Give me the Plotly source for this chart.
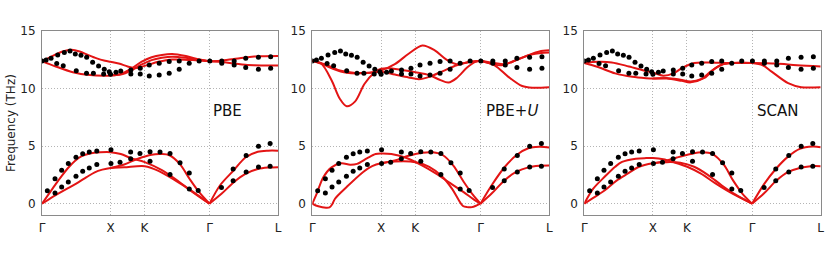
import plotly.graph_objects as go

# ---- axes / labels ----
TICK_POS = [0.0, 1.0, 1.496, 2.445, 3.445]
TICK_TEXT = ["Γ", "X", "K", "Γ", "L"]
Y_TICKS = [0, 5, 10, 15]
PANEL_LABELS = ["PBE", "PBE+<i>U</i>", "SCAN"]
LABEL_X = [2.715, 2.90, 2.816]
LABEL_Y = [8.0, 8.0, 8.0]
Y_TITLE = "Frequency (THz)"

# ---- experimental points (same in every panel) ----
EXP_X = [0.078, 0.19, 0.287, 0.384, 0.496, 0.594, 0.69, 0.80, 1.007,
         0.19, 0.287, 0.384, 0.496, 0.594, 0.69, 0.80, 1.007, 1.139,
         1.294, 1.294, 1.43, 1.577, 1.577, 1.723, 1.869, 1.869, 2.015, 2.15, 2.15, 2.28,
         2.62, 2.79, 2.79, 2.98, 2.98, 3.16, 3.16, 3.33, 3.33,
         0.0, 0.06, 0.132, 0.229, 0.326, 0.409, 0.486, 0.569, 0.652, 0.739, 0.826, 0.909, 0.982,
         0.215, 0.31, 0.50, 0.65, 0.75, 0.90, 1.0, 1.08, 1.15,
         1.297, 1.297, 1.434, 1.434, 1.566, 1.566, 1.711, 1.711, 1.857, 1.857, 2.003, 2.003,
         2.149, 2.294, 2.45,
         2.624, 2.624, 2.805, 2.805, 2.974, 2.974, 3.159, 3.159, 3.338, 3.338]
EXP_F = [1.12, 2.17, 2.90, 3.48, 4.03, 4.33, 4.47, 4.56, 4.67,
         0.92, 1.44, 1.88, 2.37, 2.81, 3.10, 3.39, 3.48, 3.60,
         4.47, 3.89, 4.36, 4.50, 3.68, 4.47, 4.36, 2.52, 3.54, 2.66, 1.27, 1.15,
         1.41, 3.01, 1.99, 4.18, 2.75, 4.99, 3.19, 5.22, 3.25,
         12.38, 12.45, 12.61, 12.90, 13.10, 13.24, 12.98, 12.87, 12.69, 12.26, 11.94, 11.65, 11.45,
         12.15, 11.95, 11.52, 11.31, 11.31, 11.25, 11.22, 11.39, 11.51,
         11.60, 11.25, 11.74, 11.25, 12.03, 11.08, 12.18, 11.16, 12.32, 11.31, 12.38, 11.66,
         12.18, 12.38, 12.38,
         12.38, 12.18, 12.38, 12.03, 12.61, 11.80, 12.70, 11.66, 12.75, 11.74]

# ---- PBE calculated branches (x, THz) ----
pbe_a1 = [(0, 0), (0.1, 0.85), (0.2, 1.7), (0.3, 2.5), (0.39, 3.16), (0.48, 3.7), (0.58, 4.12), (0.7, 4.35),
          (0.85, 4.45), (1.0, 4.46), (1.15, 4.3), (1.3, 3.95), (1.5, 3.6), (1.75, 2.9), (2.0, 1.9), (2.2, 1.0), (2.445, 0)]
pbe_a2 = [(0, 0), (0.1, 0.38), (0.23, 0.84), (0.38, 1.35), (0.53, 1.85), (0.65, 2.3), (0.77, 2.72), (0.88, 2.95),
          (1.0, 3.1), (1.2, 3.15), (1.5, 3.25), (1.7, 2.85), (1.95, 2.0), (2.2, 1.05), (2.445, 0)]
pbe_a3 = [(1.0, 3.1), (1.2, 3.4), (1.4, 3.9), (1.6, 4.25), (1.74, 4.3), (1.86, 4.2), (2.01, 3.45), (2.16, 2.1),
          (2.3, 0.95), (2.445, 0)]
pbe_l1 = [(2.445, 0), (2.6, 1.6), (2.8, 2.9), (2.97, 4.0), (3.15, 4.5), (3.3, 4.6), (3.445, 4.6)]
pbe_l2 = [(2.445, 0), (2.62, 0.85), (2.8, 1.86), (2.97, 2.58), (3.15, 3.0), (3.3, 3.13), (3.445, 3.16)]
pbe_o1 = [(0, 12.36), (0.15, 12.8), (0.3, 13.2), (0.43, 13.35), (0.55, 13.2), (0.67, 12.9), (0.8, 12.6),
          (0.92, 12.4), (1.0, 12.3), (1.12, 12.15), (1.25, 11.9), (1.35, 11.75), (1.5, 11.95), (1.7, 12.3),
          (1.9, 12.5), (2.2, 12.45), (2.445, 12.36)]
pbe_o2 = [(0, 12.36), (0.2, 11.9), (0.45, 11.4), (0.7, 11.15), (0.9, 11.1), (1.0, 11.12), (1.15, 11.25),
          (1.3, 11.7), (1.45, 12.3), (1.6, 12.7), (1.75, 12.9), (1.9, 12.98), (2.1, 12.8), (2.3, 12.5), (2.445, 12.36)]
pbe_o3 = [(1.0, 11.12), (1.15, 11.2), (1.3, 11.55), (1.45, 12.05), (1.6, 12.45), (1.75, 12.65), (1.9, 12.75),
          (2.1, 12.65), (2.3, 12.45), (2.445, 12.36)]
pbe_lo1 = [(2.445, 12.36), (2.6, 12.4), (2.8, 12.55), (3.0, 12.7), (3.2, 12.78), (3.445, 12.8)]
pbe_lo2 = [(2.445, 12.36), (2.6, 12.3), (2.8, 12.15), (3.0, 12.03), (3.2, 11.98), (3.445, 11.98)]

# ---- PBE+U calculated branches ----
pu_a1 = [(0, 0), (0.064, 0.87), (0.16, 2.3), (0.28, 3.15), (0.42, 3.5), (0.55, 3.38), (0.65, 3.45), (0.8, 3.95),
         (0.92, 4.3), (1.0, 4.35), (1.15, 4.3), (1.35, 4.0), (1.6, 3.3), (1.8, 2.6), (2.0, 1.8), (2.2, 1.0),
         (2.35, 0.35), (2.445, 0)]
pu_a2 = [(0, 0), (0.087, -0.23), (0.2, -0.35), (0.25, -0.32), (0.29, -0.05), (0.33, 0.43), (0.5, 1.45),
         (0.74, 2.75), (0.87, 3.25), (1.0, 3.5), (1.2, 3.65), (1.5, 3.6), (1.7, 3.2), (1.88, 2.4), (2.03, 1.3),
         (2.13, 0.3), (2.19, -0.2), (2.25, -0.3), (2.32, -0.3), (2.39, -0.15), (2.445, 0)]
pu_a3 = [(1.0, 3.5), (1.2, 3.75), (1.4, 4.15), (1.6, 4.42), (1.75, 4.45), (1.9, 4.2), (2.05, 3.3), (2.2, 1.9),
         (2.33, 0.8), (2.445, 0)]
pu_l1 = [(2.445, 0), (2.61, 1.62), (2.8, 3.2), (2.97, 4.22), (3.14, 4.8), (3.3, 4.93), (3.445, 4.88)]
pu_l2 = [(2.445, 0), (2.61, 0.9), (2.8, 2.06), (2.97, 2.78), (3.14, 3.15), (3.3, 3.28), (3.445, 3.3)]
pu_o1 = [(0, 12.4), (0.13, 12.15), (0.28, 10.7), (0.4, 9.1), (0.5, 8.45), (0.62, 8.85), (0.76, 10.4),
         (0.9, 11.35), (1.0, 11.7), (1.1, 11.75), (1.3, 11.6), (1.5, 11.4), (1.7, 11.15), (1.85, 10.75),
         (1.98, 10.5), (2.1, 10.9), (2.25, 11.8), (2.37, 12.3), (2.445, 12.4)]
pu_o2 = [(0, 12.4), (0.15, 12.1), (0.3, 11.7), (0.5, 11.35), (0.7, 11.3), (0.9, 11.4), (1.0, 11.55), (1.2, 12.1),
         (1.4, 13.0), (1.6, 13.72), (1.78, 13.3), (1.95, 12.5), (2.1, 12.1), (2.3, 12.3), (2.445, 12.4)]
pu_o3 = [(0, 12.4), (0.2, 12.05), (0.4, 11.55), (0.6, 11.35), (0.8, 11.35), (1.0, 11.45), (1.2, 11.2),
         (1.4, 10.95), (1.55, 10.8), (1.7, 11.0), (1.9, 11.5), (2.1, 12.0), (2.3, 12.3), (2.445, 12.4)]
pu_lo1 = [(2.445, 12.4), (2.6, 12.15), (2.75, 12.0), (2.95, 12.4), (3.15, 12.9), (3.3, 13.2), (3.445, 13.3)]
pu_lo2 = [(2.445, 12.4), (2.65, 12.2), (2.8, 12.1), (3.0, 12.55), (3.2, 12.95), (3.445, 13.1)]
pu_lo3 = [(2.445, 12.4), (2.65, 12.0), (2.85, 11.0), (3.05, 10.2), (3.2, 10.05), (3.445, 10.1)]

# ---- SCAN calculated branches ----
sc_a1 = [(0, 0), (0.13, 1.3), (0.3, 2.35), (0.45, 3.2), (0.55, 3.62), (0.75, 3.9), (0.9, 3.95), (1.0, 3.95),
         (1.15, 3.85), (1.3, 3.6), (1.5, 3.2), (1.7, 2.6), (1.9, 1.8), (2.12, 1.0), (2.445, 0)]
sc_a2 = [(0, 0), (0.13, 0.5), (0.3, 1.16), (0.47, 2.0), (0.63, 2.6), (0.79, 3.18), (1.0, 3.5), (1.2, 3.6),
         (1.4, 3.55), (1.6, 3.2), (1.8, 2.5), (2.0, 1.6), (2.2, 0.8), (2.445, 0)]
sc_a3 = [(1.0, 3.5), (1.15, 3.65), (1.35, 4.0), (1.55, 4.3), (1.72, 4.45), (1.87, 4.3), (2.03, 3.4), (2.17, 2.0),
         (2.3, 0.9), (2.445, 0)]
sc_l1 = [(2.445, 0), (2.62, 1.7), (2.8, 3.07), (2.97, 4.08), (3.14, 4.75), (3.33, 4.95), (3.445, 4.9)]
sc_l2 = [(2.445, 0), (2.62, 0.9), (2.8, 2.0), (2.97, 2.75), (3.14, 3.1), (3.3, 3.25), (3.445, 3.25)]
sc_o1 = [(0, 12.2), (0.2, 12.3), (0.4, 12.25), (0.65, 11.9), (0.9, 11.5), (1.0, 11.38), (1.15, 11.1),
         (1.3, 11.3), (1.42, 11.75), (1.6, 12.2), (1.8, 12.25), (2.1, 12.2), (2.445, 12.2)]
sc_o2 = [(0, 12.2), (0.2, 11.85), (0.45, 11.3), (0.7, 11.0), (0.9, 10.88), (1.0, 10.85), (1.2, 10.9),
         (1.4, 10.75), (1.55, 10.6), (1.7, 10.8), (1.85, 11.5), (2.0, 12.05), (2.2, 12.2), (2.445, 12.2)]
sc_o3 = [(1.0, 10.85), (1.2, 10.85), (1.42, 10.65), (1.55, 10.52), (1.75, 10.9), (1.9, 11.7), (2.05, 12.15),
         (2.445, 12.2)]
sc_lo1 = [(2.445, 12.2), (2.8, 12.15), (3.1, 12.0), (3.445, 11.9)]
sc_lo2 = [(2.445, 12.2), (2.6, 12.0), (2.73, 11.45), (2.97, 10.45), (3.16, 10.1), (3.445, 10.1)]

PANELS = [
    [pbe_a1, pbe_a2, pbe_a3, pbe_l1, pbe_l2, pbe_o1, pbe_o2, pbe_o3, pbe_lo1, pbe_lo2],
    [pu_a1, pu_a2, pu_a3, pu_l1, pu_l2, pu_o1, pu_o2, pu_o3, pu_lo1, pu_lo2, pu_lo3],
    [sc_a1, sc_a2, sc_a3, sc_l1, sc_l2, sc_o1, sc_o2, sc_o3, sc_lo1, sc_lo2],
]

W, H = 831, 254
X_DOMAINS = [(42 / W, 278 / W), (312.3 / W, 549.3 / W), (584.3 / W, 820.7 / W)]
Y_DOMAIN = ((H - 215.2) / H, (H - 30.7) / H)

RED = "#e31414"
FONT = "DejaVu Sans"

fig = go.Figure()
for i, branches in enumerate(PANELS):
    xa = "x" if i == 0 else f"x{i+1}"
    ya = "y" if i == 0 else f"y{i+1}"
    for br in branches:
        fig.add_trace(go.Scatter(
            x=[p[0] for p in br], y=[p[1] for p in br], mode="lines",
            line=dict(color=RED, width=2, shape="spline", smoothing=0.9),
            xaxis=xa, yaxis=ya, hoverinfo="skip", showlegend=False))
    fig.add_trace(go.Scatter(
        x=EXP_X, y=EXP_F, mode="markers",
        marker=dict(color="black", size=5),
        xaxis=xa, yaxis=ya, hoverinfo="skip", showlegend=False))
    fig.add_annotation(x=LABEL_X[i], y=LABEL_Y[i], xref=xa, yref=ya, text=PANEL_LABELS[i],
                       showarrow=False, font=dict(family=FONT, size=15, color="#111"))

axis_common = dict(
    showgrid=True, gridcolor="#b4b4b4", griddash="1px,2px", gridwidth=1,
    showline=True, mirror=True, linecolor="#8a8a8a", linewidth=1,
    zeroline=False, ticks="outside", ticklen=1, tickcolor="rgba(0,0,0,0)",
    tickfont=dict(family=FONT, size=12, color="#222"), fixedrange=True,
)
layout = dict(width=W, height=H, margin=dict(l=0, r=0, t=0, b=0, autoexpand=False),
              paper_bgcolor="white", plot_bgcolor="white", showlegend=False,
              font=dict(family=FONT), hovermode=False)
for i in range(3):
    sx = "" if i == 0 else str(i + 1)
    layout[f"xaxis{sx}"] = dict(axis_common, domain=list(X_DOMAINS[i]), range=[0, 3.445],
                                tickvals=TICK_POS, ticktext=TICK_TEXT, automargin=False,
                                anchor="y" if i == 0 else f"y{i+1}")
    layout[f"yaxis{sx}"] = dict(axis_common, domain=list(Y_DOMAIN), range=[-1, 15],
                                tickvals=Y_TICKS, ticklen=3, automargin=False,
                                anchor="x" if i == 0 else f"x{i+1}")
fig.update_layout(**layout)
fig.add_annotation(x=11 / W, y=(Y_DOMAIN[0] + Y_DOMAIN[1]) / 2, xref="paper", yref="paper",
                   xanchor="center", yanchor="middle",
                   text=Y_TITLE, textangle=-90, showarrow=False,
                   font=dict(family=FONT, size=12, color="#222"))

# remove the default 8px page margin so the figure sits at the window origin
fig.write_html("out.html", config={"displayModeBar": False},
               post_script="document.body.style.margin='0';")
